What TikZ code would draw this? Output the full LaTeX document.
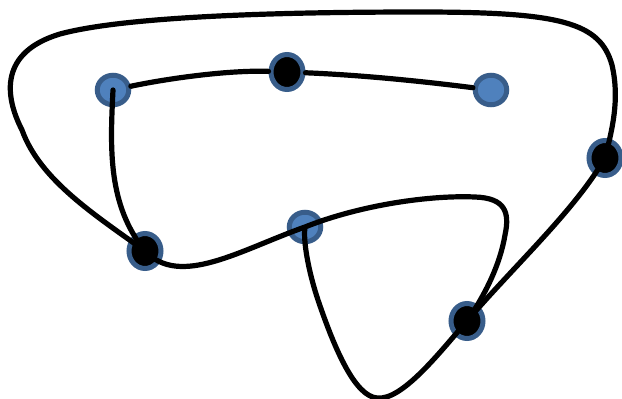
\documentclass[tikz,border=0pt]{standalone}
\usetikzlibrary{shapes.geometric}
\definecolor{nodeblue}{HTML}{4F81BD}
\definecolor{nodeborder}{HTML}{385D8A}
\begin{document}
\begin{tikzpicture}[x=1pt,y=-1pt,
  bluenode/.style={ellipse, draw=nodeborder, fill=nodeblue, line width=5pt, minimum width=31.5pt, minimum height=29.5pt, inner sep=0pt},
  blacknode/.style={ellipse, draw=nodeborder, fill=black, line width=5pt, minimum width=32pt, minimum height=35pt, inner sep=0pt},
  curve/.style={line width=5.2pt, line cap=round, line join=round}]
\useasboundingbox (0,0) rectangle (622,399);
\node[bluenode] (A) at (113,90) {};
\node[blacknode] (B) at (287,72) {};
\node[bluenode] (C) at (491,90) {};
\node[blacknode] (D) at (605,158) {};
\node[bluenode] (E) at (305,227) {};
\node[blacknode] (F) at (145,251) {};
\node[blacknode] (G) at (467,321) {};
\draw[curve] (A) .. controls (170,78) and (230,70) .. (B);
\draw[curve] (B) .. controls (360,75) and (420,81) .. (C);
\draw[curve] (A.center) .. controls (110,150) and (108,205) .. (F.center);
\draw[curve] (F.center) .. controls (95,215) and (40,180) .. (22,130)
  .. controls (4,95) and (0,52) .. (60,34)
  .. controls (130,15) and (300,12) .. (420,12)
  .. controls (560,12) and (600,22) .. (612,65)
  .. controls (620,100) and (612,130) .. (D.center)
  .. controls (575,210) and (515,265) .. (G.center);
\draw[curve] (F.center) .. controls (180,288) and (240,250) .. (E.center)
  .. controls (360,205) and (430,195) .. (475,197)
  .. controls (505,198) and (510,212) .. (505,235)
  .. controls (500,265) and (485,295) .. (G.center)
  .. controls (440,352) and (402,401) .. (377,398)
  .. controls (355,396) and (335,350) .. (318,300)
  .. controls (308,270) and (303,240) .. (E.center);
\end{tikzpicture}
\end{document}
